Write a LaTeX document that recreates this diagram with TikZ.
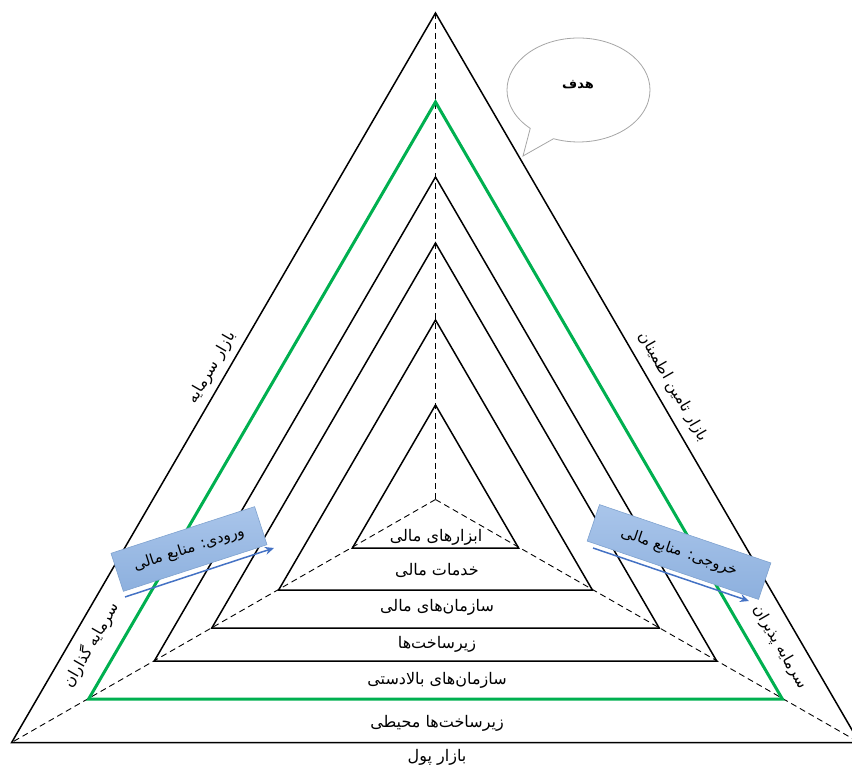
\documentclass[tikz,border=0pt]{standalone}
\usepackage{fontspec}
\newfontfamily\arabicfont[Script=Arabic]{DejaVu Sans}
\TeXXeTstate=1
\usetikzlibrary{shapes.callouts,arrows.meta}
\newcommand{\prs}[1]{{\arabicfont\beginR #1\endR}}
\definecolor{greenline}{HTML}{00B050}
\definecolor{boxtop}{HTML}{A9C5EA}
\definecolor{boxbot}{HTML}{8DB0DE}
\definecolor{boxedge}{HTML}{7FA2CF}
\definecolor{flowblue}{HTML}{4472C4}
\definecolor{bubblegray}{HTML}{A6A6A6}
\begin{document}
\begin{tikzpicture}[x=1pt,y=-1pt,
  tri/.style={draw=black,line width=1.5pt,line join=miter},
  goal/.style={draw=greenline,line width=3pt,line join=miter},
  guide/.style={draw=black,line width=0.9pt,dash pattern=on 6pt off 4pt},
  layer/.style={font=\fontsize{16}{18}\selectfont,inner sep=1pt},
  edgetext/.style={font=\fontsize{15.5}{17}\selectfont,inner sep=1pt},
  flowbox/.style={draw=boxedge,line width=0.6pt,top color=boxtop,bottom color=boxbot,inner sep=0pt,font=\fontsize{15}{17}\selectfont},
  flow/.style={draw=flowblue,line width=1.5pt,-{Stealth[length=9pt,width=8pt]}},
  bubble/.style={ellipse callout,draw=bubblegray,line width=0.8pt,fill=white,minimum width=143pt,minimum height=104pt,inner sep=0pt,callout pointer arc=22}
]
\useasboundingbox (0,0) rectangle (852,767);
\clip (0,0) rectangle (852,767);

% centre and triangle corners
\coordinate (ctr) at (435.5,499.5);
\foreach \n/\a/\b in {o/13/742.5, g/102/699, c/177/661, d/243/628, e/320/590, f/405/548} {
  \pgfmathsetmacro\hw{0.581*(\b-\a)}
  \coordinate (\n-top) at (435.5,\a);
  \coordinate (\n-left) at ({435.5-\hw},\b);
  \coordinate (\n-right) at ({435.5+\hw},\b);
}

% dashed guides from centre
\draw[guide] (o-top) -- (ctr);
\draw[guide] (ctr) -- (o-left);
\draw[guide] (ctr) -- (o-right);

% triangles
\draw[tri] (o-top) -- (o-left) -- (o-right) -- cycle;
\draw[tri] (c-top) -- (c-left) -- (c-right) -- cycle;
\draw[tri] (d-top) -- (d-left) -- (d-right) -- cycle;
\draw[tri] (e-top) -- (e-left) -- (e-right) -- cycle;
\draw[tri] (f-top) -- (f-left) -- (f-right) -- cycle;
\draw[goal] (g-top) -- (g-left) -- (g-right) -- cycle;

% layer labels
\node[layer] (l1) at (436,537) {\prs{ابزارهای مالی}};
\node[layer] (l2) at (437,570) {\prs{خدمات مالی}};
\node[layer] (l3) at (437,607) {\prs{سازمان‌های مالی}};
\node[layer] (l4) at (437,644) {\prs{زیرساخت‌ها}};
\node[layer] (l5) at (437,680) {\prs{سازمان‌های بالادستی}};
\node[layer] (l6) at (437,723) {\prs{زیرساخت‌ها محیطی}};
\node[layer] (l7) at (437,757) {\prs{بازار پول}};

% edge labels
\node[edgetext,rotate=60] (capm) at (212,368) {\prs{بازار سرمایه}};
\node[edgetext,rotate=-60] (insm) at (673,387) {\prs{بازار تامین اطمینان}};
\node[edgetext,rotate=60] (inv) at (91,645) {\prs{سرمایه گذاران}};
\node[edgetext,rotate=-60] (rec) at (780,647) {\prs{سرمایه پذیران}};

% input / output boxes
\node[flowbox,rotate=18,minimum width=151pt,minimum height=40pt] (inbox) at (189,549) {\prs{ورودی: منابع مالی}};
\node[flowbox,rotate=-18.8,minimum width=181pt,minimum height=38.5pt] (outbox) at (679,552) {\prs{خروجی: منابع مالی}};
\coordinate (in-s) at (125,597);
\coordinate (in-e) at (274,548);
\coordinate (out-s) at (593,548);
\coordinate (out-e) at (749,601);
\draw[flow] (in-s) -- (in-e);
\draw[flow] (out-s) -- (out-e);

% goal bubble
\coordinate (tip) at (523,156);
\node[bubble,callout absolute pointer={(tip)}] (goalb) at (578.5,90) {};
\node[font=\bfseries\fontsize{13}{15}\selectfont] (goaltext) at (578,85) {\prs{هدف}};
\end{tikzpicture}
\end{document}
